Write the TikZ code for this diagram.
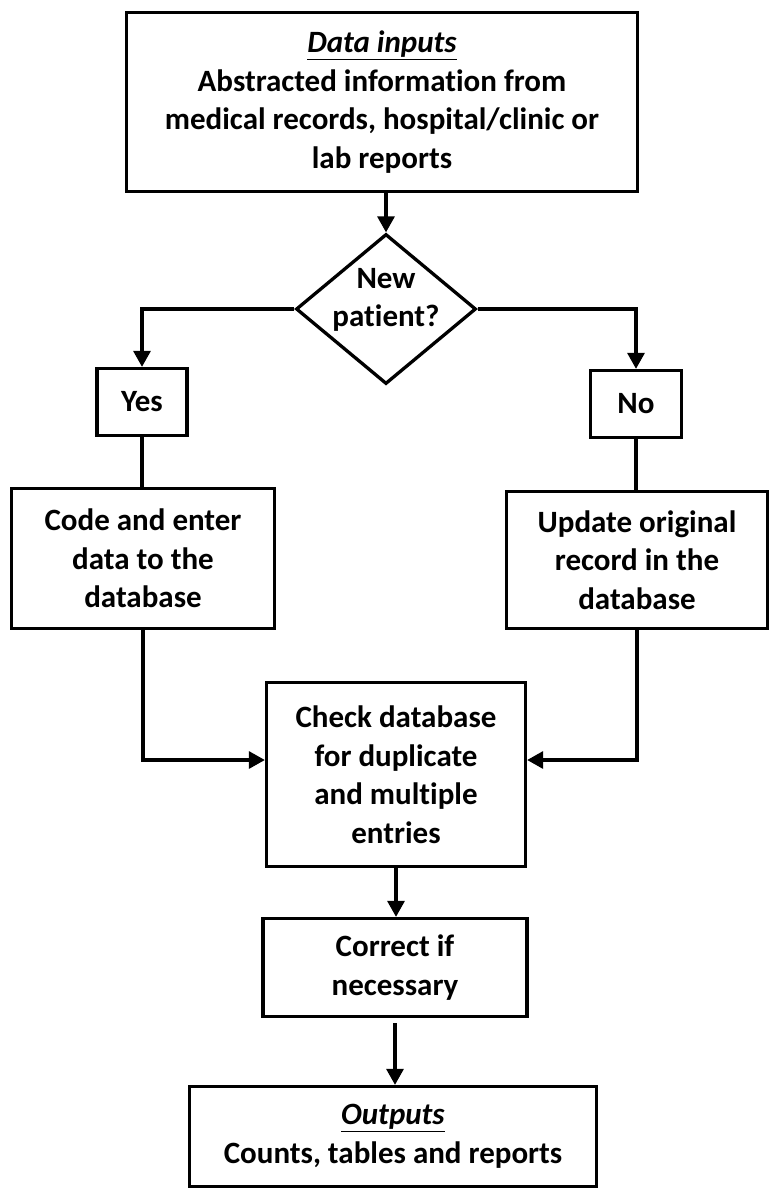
\documentclass[tikz,border=0pt]{standalone}
\usepackage{fontspec}
\setmainfont{Carlito}[Ligatures={NoCommon}]
\usetikzlibrary{shapes.geometric,arrows.meta,calc}
\tikzset{
  txt/.style={font=\fontsize{31}{38.5}\selectfont\bfseries, align=center},
  box/.style={txt, draw, rectangle, line width=3.3pt, inner sep=0pt},
  conn/.style={line width=3.2pt},
  arr/.style={conn, -{Triangle[width=17pt,length=16pt]}},
}
\begin{document}
\begin{tikzpicture}[x=1pt,y=-1pt]
\useasboundingbox (0,0) rectangle (774,1191);
\node[box, minimum width=511pt, minimum height=179pt] (top) at (382,102)
  {\underline{\textit{Data inputs}}\\Abstracted information from\\medical records, hospital/clinic or\\lab reports};
\node[draw, diamond, line width=3.3pt, inner sep=0pt, minimum width=180pt, minimum height=150pt] (dia) at (386,309) {};
\node[txt] (diatext) at ([yshift=9pt]dia.center) {New\\patient?};
\node[box, minimum width=90pt, minimum height=67pt] (yes) at (142,402) {Yes};
\node[box, minimum width=91pt, minimum height=67pt] (no) at (636,404) {No};
\node[box, minimum width=263pt, minimum height=140pt] (code) at (143,558.5) {Code and enter\\data to the\\database};
\node[box, minimum width=261pt, minimum height=137pt] (upd) at (637,560) {Update original\\record in the\\database};
\node[box, minimum width=259pt, minimum height=184pt] (check) at (396,774.5) {Check database\\for duplicate\\and multiple\\entries};
\node[box, minimum width=264pt, minimum height=98pt] (corr) at (395,967.5) {Correct if\\necessary};
\node[box, minimum width=407pt, minimum height=100pt] (out) at (393,1136.5) {\underline{\textit{Outputs}}\\Counts, tables and reports};
\draw[arr] (top.south -| dia.north) -- (dia.north);
\draw[arr] (dia.west) -| (yes.north);
\draw[arr] (dia.east) -| (no.north);
\draw[conn] (yes.south) -- (yes.south |- code.north);
\draw[conn] (no.south) -- (no.south |- upd.north);
\draw[arr] (code.south) |- ([yshift=14.5pt]check.west);
\draw[arr] (upd.south) |- ([yshift=14.5pt]check.east);
\draw[arr] (check.south) -- (check.south |- corr.north);
\draw[arr, shorten <=5pt] (corr.south) -- (corr.south |- out.north);
\end{tikzpicture}
\end{document}
